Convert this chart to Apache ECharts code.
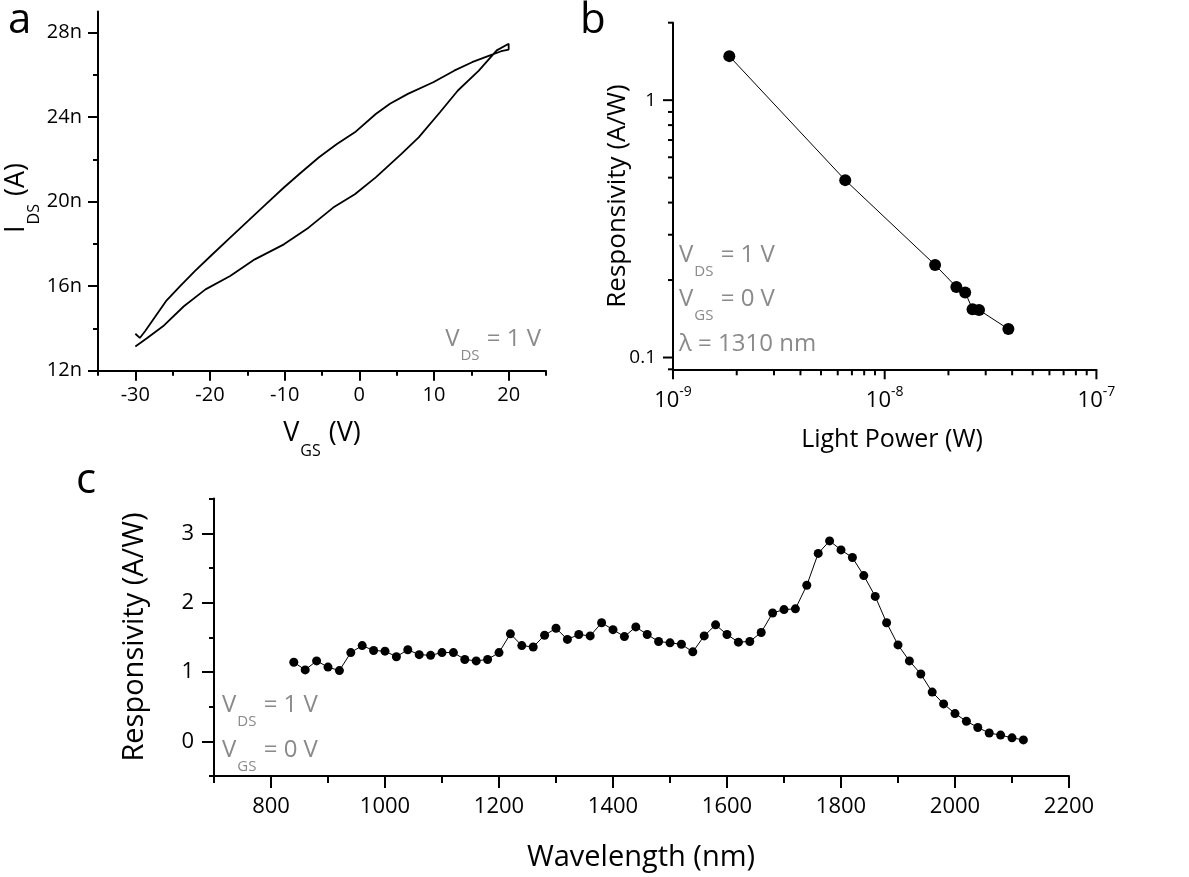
<!DOCTYPE html>
<html>
<head>
<meta charset="utf-8">
<script src="https://cdn.jsdelivr.net/npm/echarts@6/dist/echarts.min.js"></script>
<style>html,body{margin:0;padding:0;background:#fff}#chart{width:1189px;height:877px}</style>
</head>
<body>
<div id="chart"></div>
<script>
// ---------------- data ----------------
// panel a: transfer curve (V_GS in V, I_DS in nA), forward sweep then backward sweep
const aVgs = [-30.0, -28.5, -26.3, -23.5, -20.6, -17.3, -14.0, -10.1, -6.8, -3.5, -0.6, 2.2, 5.6, 7.95, 10.8, 13.2, 16.0, 18.4, 20.0, 20.0,
              19.0, 17.5, 15.1, 12.7, 9.9, 6.5, 4.1, 2.2, -0.6, -3.0, -5.4, -7.8, -10.1, -12.5, -14.9, -17.3, -19.7, -22.0, -24.0, -25.9, -27.3, -28.7, -29.4, -30.0];
const aIds = [13.15, 13.52, 14.10, 15.05, 15.85, 16.48, 17.27, 17.98, 18.77, 19.72, 20.35, 21.15, 22.25, 23.04, 24.23, 25.26, 26.20, 27.16, 27.47, 27.20,
              27.12, 26.92, 26.60, 26.20, 25.65, 25.10, 24.63, 24.15, 23.28, 22.73, 22.10, 21.38, 20.67, 19.88, 19.09, 18.30, 17.50, 16.72, 16.00, 15.29, 14.58, 13.87, 13.55, 13.75];

// panel b: responsivity vs light power
const bPower = [1.845e-9, 6.51e-9, 1.73e-8, 2.18e-8, 2.40e-8, 2.60e-8, 2.79e-8, 3.84e-8];
const bResp  = [1.483, 0.489, 0.229, 0.188, 0.179, 0.154, 0.153, 0.129];

// panel c: responsivity spectrum
const cWavelength = [840, 860, 880, 900, 920, 940, 960, 980, 1000, 1020, 1040, 1060, 1080, 1100, 1120, 1140, 1160, 1180, 1200, 1220,
                     1240, 1260, 1280, 1300, 1320, 1340, 1360, 1380, 1400, 1420, 1440, 1460, 1480, 1500, 1520, 1540, 1560, 1580, 1600, 1620,
                     1640, 1660, 1680, 1700, 1720, 1740, 1760, 1780, 1800, 1820, 1840, 1860, 1880, 1900, 1920, 1940, 1960, 1980, 2000, 2020,
                     2040, 2060, 2080, 2100, 2120];
const cResp = [1.14, 1.03, 1.16, 1.07, 1.02, 1.28, 1.38, 1.31, 1.30, 1.22, 1.32, 1.25, 1.24, 1.28, 1.28, 1.18, 1.16, 1.18, 1.28, 1.55,
               1.38, 1.36, 1.53, 1.63, 1.47, 1.54, 1.52, 1.71, 1.61, 1.51, 1.65, 1.54, 1.44, 1.42, 1.40, 1.29, 1.52, 1.68, 1.54, 1.43,
               1.44, 1.57, 1.85, 1.90, 1.91, 2.25, 2.71, 2.89, 2.76, 2.65, 2.39, 2.09, 1.71, 1.39, 1.16, 0.97, 0.71, 0.54, 0.40, 0.29,
               0.20, 0.12, 0.09, 0.05, 0.02];

// tick values
const aXMajorTicks = [-30, -20, -10, 0, 10, 20];
const aXMinorTicks = [-35, -25, -15, -5, 5, 15, 25];
const aYMajorTicks = [12, 16, 20, 24, 28];
const aYMinorTicks = [14, 18, 22, 26];
const bXMajorTicks = [1e-9, 1e-8, 1e-7];
const bXMinorTicks = [2e-9, 3e-9, 4e-9, 5e-9, 6e-9, 7e-9, 8e-9, 9e-9, 2e-8, 3e-8, 4e-8, 5e-8, 6e-8, 7e-8, 8e-8, 9e-8];
const bYMajorTicks = [0.1, 1];
const bYMinorTicks = [0.09, 0.2, 0.3, 0.4, 0.5, 0.6, 0.7, 0.8, 0.9, 2];
const cXMajorTicks = [800, 1000, 1200, 1400, 1600, 1800, 2000, 2200];
const cXMinorTicks = [700, 900, 1100, 1300, 1500, 1700, 1900, 2100];
const cYMajorTicks = [0, 1, 2, 3];
const cYMinorTicks = [-0.5, 0.5, 1.5, 2.5, 3.5];

// ---------------- style ----------------
const FONT = 'Open Sans';
const GRAY = '#8a8a8a';
const B_YMIN = 0.09, B_YMAX = 2, B_XMIN = 1e-9, B_XMAX = 1e-7;

const axLine = { show: true, onZero: false, lineStyle: { color: '#000', width: 2 } };
const noSplit = { show: false };

function linAxis(grid, pos, min, max, ticks, tickLen, labels, labelOpt) {
  return {
    type: 'value', gridIndex: grid, position: pos, min: min, max: max,
    axisLine: labels ? axLine : { show: false, onZero: false },
    axisTick: { show: true, customValues: ticks, length: tickLen, lineStyle: { color: '#000', width: 2 } },
    axisLabel: labels ? Object.assign({ show: true, customValues: ticks, color: '#000', fontFamily: FONT, formatter: v => String(v) }, labelOpt) : { show: false },
    splitLine: noSplit, minorTick: { show: false }
  };
}

function subRich(size, subSize, pad, color) {
  return {
    m: { fontSize: size, lineHeight: size + 4, verticalAlign: 'top', fontFamily: FONT, fill: color, color: color },
    s: { fontSize: subSize, lineHeight: subSize + 2, verticalAlign: 'top', padding: [pad, 1, 0, 1], fontFamily: FONT, fill: color, color: color }
  };
}

function txt(text, x, y, o) {
  o = o || {};
  return {
    type: 'text', x: x, y: y, rotation: o.rot || 0, silent: true,
    style: {
      text: text, fill: o.color || '#000', fontFamily: FONT, fontSize: o.size || 22,
      align: o.align || 'left', verticalAlign: o.va || 'top', rich: o.rich
    }
  };
}

function tickRender(dir) {
  return function (params, api) {
    const p = api.coord([api.value(0), api.value(1)]);
    const len = api.value(2);
    const shape = dir === 'x'
      ? { x1: p[0], y1: p[1], x2: p[0], y2: p[1] + len }
      : { x1: p[0], y1: p[1], x2: p[0] - len, y2: p[1] };
    return { type: 'line', shape: shape, style: { stroke: '#000', lineWidth: 2 } };
  };
}

const bXTickData = bXMajorTicks.map(v => [v, B_YMIN, 10]).concat(bXMinorTicks.map(v => [v, B_YMIN, 6]));
const bYTickData = bYMajorTicks.map(v => [B_XMIN, v, 10]).concat(bYMinorTicks.map(v => [B_XMIN, v, 5]));

const annRich = subRich(24, 15, 21, GRAY);
const titleRich = subRich(27, 16, 23, '#000');

const option = {
  animation: false,
  backgroundColor: '#fff',
  grid: [
    { left: 98, top: 11.5, width: 448, height: 359.2, containLabel: false, outerBoundsMode: 'none' },
    { left: 673, top: 22.7, width: 423.4, height: 346.6, containLabel: false, outerBoundsMode: 'none' },
    { left: 214, top: 498.6, width: 855, height: 277.4, containLabel: false, outerBoundsMode: 'none' }
  ],
  xAxis: [
    linAxis(0, 'bottom', -35, 25, aXMajorTicks, 10, true, { fontSize: 20, margin: 15 }),
    linAxis(0, 'bottom', -35, 25, aXMinorTicks, 5, false),
    {
      type: 'log', logBase: 10, gridIndex: 1, position: 'bottom', min: B_XMIN, max: B_XMAX,
      axisLine: axLine, axisTick: { show: false }, splitLine: noSplit, minorTick: { show: false },
      axisLabel: {
        color: '#000', fontFamily: FONT, margin: 16,
        formatter: function (v) { return '{b|10}{sup|' + Math.round(Math.log10(v)) + '}'; },
        rich: {
          b: { fontSize: 22, lineHeight: 26, verticalAlign: 'bottom', fontFamily: FONT, color: '#000' },
          sup: { fontSize: 14, lineHeight: 15, verticalAlign: 'top', fontFamily: FONT, color: '#000' }
        }
      }
    },
    linAxis(2, 'bottom', 700, 2200, cXMajorTicks, 12, true, { fontSize: 22, margin: 20 }),
    linAxis(2, 'bottom', 700, 2200, cXMinorTicks, 7, false)
  ],
  yAxis: [
    linAxis(0, 'left', 12, 29, aYMajorTicks, 10, true, { fontSize: 20, margin: 16, formatter: v => v + 'n' }),
    linAxis(0, 'left', 12, 29, aYMinorTicks, 5, false),
    {
      type: 'log', logBase: 10, gridIndex: 1, position: 'left', min: B_YMIN, max: B_YMAX,
      axisLine: axLine, axisTick: { show: false }, splitLine: noSplit, minorTick: { show: false },
      axisLabel: {
        color: '#000', fontFamily: FONT, fontSize: 19, margin: 17,
        formatter: function (v) {
          if (Math.abs(v - 1) < 1e-6) return '1';
          if (Math.abs(v - 0.1) < 1e-7) return '0.1';
          return '';
        }
      }
    },
    linAxis(2, 'left', -0.5, 3.5, cYMajorTicks, 12, true, { fontSize: 22, margin: 20 }),
    linAxis(2, 'left', -0.5, 3.5, cYMinorTicks, 5, false)
  ],
  series: [
    {
      type: 'line', xAxisIndex: 0, yAxisIndex: 0, showSymbol: false, symbol: 'none',
      data: aVgs.map((v, i) => [v, aIds[i]]),
      lineStyle: { color: '#000', width: 1.8 }, silent: true
    },
    {
      type: 'line', xAxisIndex: 2, yAxisIndex: 2, symbol: 'circle', symbolSize: 12,
      data: bPower.map((v, i) => [v, bResp[i]]),
      itemStyle: { color: '#000' }, lineStyle: { color: '#000', width: 1 }, silent: true
    },
    {
      type: 'custom', xAxisIndex: 2, yAxisIndex: 2, data: bXTickData, encode: { x: 0, y: 1 },
      renderItem: tickRender('x'), silent: true, clip: false
    },
    {
      type: 'custom', xAxisIndex: 2, yAxisIndex: 2, data: bYTickData, encode: { x: 0, y: 1 },
      renderItem: tickRender('y'), silent: true, clip: false
    },
    {
      type: 'line', xAxisIndex: 3, yAxisIndex: 3, symbol: 'circle', symbolSize: 9,
      data: cWavelength.map((v, i) => [v, cResp[i]]),
      itemStyle: { color: '#000' }, lineStyle: { color: '#000', width: 1 }, silent: true
    }
  ],
  graphic: [
    // panel letters
    txt('a', 8, 21, { size: 42, va: 'middle' }),
    txt('b', 580, 21, { size: 42, va: 'middle' }),
    txt('c', 76, 481, { size: 42, va: 'middle' }),
    // axis titles
    txt('{m|I}{s|DS}{m| (A)}', 3, 198, { rot: Math.PI / 2, align: 'center', rich: titleRich }),
    txt('{m|V}{s|GS}{m| (V)}', 322, 420, { align: 'center', rich: titleRich }),
    txt('Responsivity (A/W)', 618, 196, { rot: Math.PI / 2, align: 'center', va: 'middle', size: 26 }),
    txt('Light Power (W)', 892, 440, { align: 'center', va: 'middle', size: 25 }),
    txt('Responsivity (A/W)', 135, 637, { rot: Math.PI / 2, align: 'center', va: 'middle', size: 29 }),
    txt('Wavelength (nm)', 641, 858, { align: 'center', va: 'middle', size: 29 }),
    // annotations
    txt('{m|V}{s|DS}{m| = 1 V}', 541, 327, { align: 'right', rich: annRich, color: GRAY }),
    txt('{m|V}{s|DS}{m| = 1 V}', 679, 243, { rich: annRich, color: GRAY }),
    txt('{m|V}{s|GS}{m| = 0 V}', 679, 287, { rich: annRich, color: GRAY }),
    txt('{m|\u03bb = 1310 nm}', 679, 332, { rich: annRich, color: GRAY }),
    txt('{m|V}{s|DS}{m| = 1 V}', 222, 693, { rich: annRich, color: GRAY }),
    txt('{m|V}{s|GS}{m| = 0 V}', 222, 738, { rich: annRich, color: GRAY })
  ]
};

const chart = echarts.init(document.getElementById('chart'), null, { renderer: 'canvas', width: 1189, height: 877 });
chart.setOption(option);
</script>
</body>
</html>
